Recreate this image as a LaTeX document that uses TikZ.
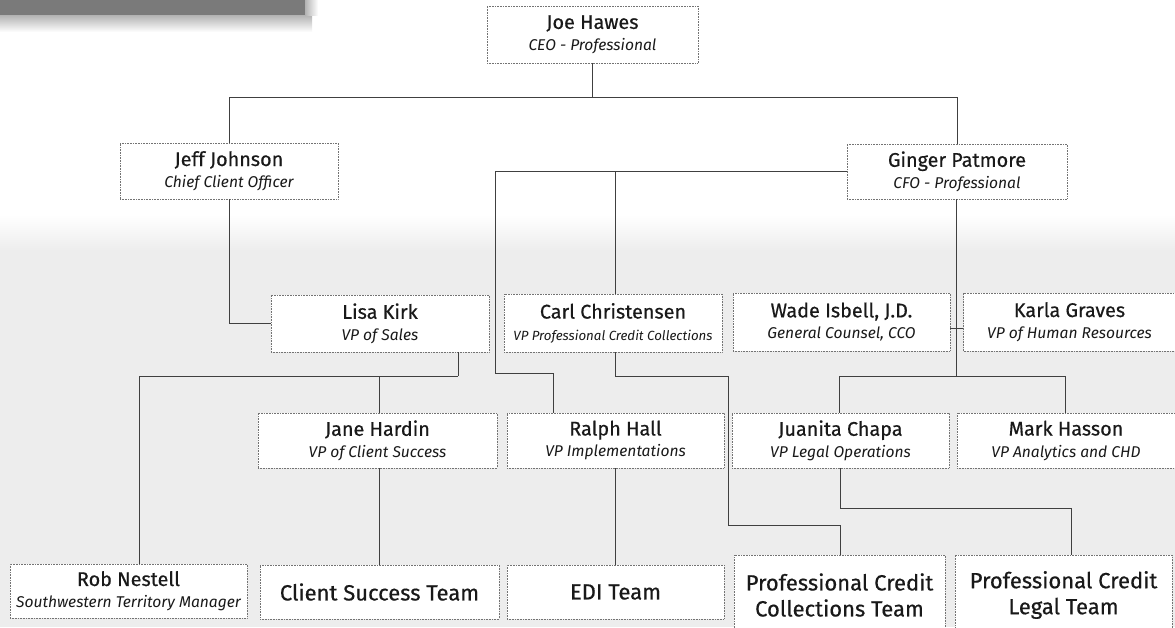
\documentclass[tikz,border=0pt]{standalone}
\usepackage{fontspec}
\setmainfont{Fira Sans}
\newfontfamily\namefam{Fira Sans}[FakeBold=0.5]
\newcommand\nmfont{\namefam\fontsize{19.8}{21}\selectfont}
\newcommand\sbfont{\fontsize{15.6}{21}\selectfont\itshape}
\newcommand\smfont{\fontsize{13.3}{21}\selectfont\itshape}
\newcommand\tmfont{\namefam\fontsize{22}{26}\selectfont}
\tikzset{
  box/.style={draw=black!55, densely dotted, line width=0.6pt, fill=white,
    inner sep=0pt, align=center, text=black!90, font=\fontsize{15}{21.5}\selectfont},
  team/.style={box, font=\tmfont},
  conn/.style={draw=black!75, line width=0.9pt}
}
\begin{document}
\begin{tikzpicture}[x=1pt,y=-1pt]
\useasboundingbox (0,0) rectangle (1175,627);
\clip (0,0) rectangle (1175,627);
% background texture band
\shade[top color=white, bottom color=black!7] (0,215) rectangle (1175,250);
\fill[black!7] (0,250) rectangle (1175,627);
% header bar remnant
\shade[top color=black!30, bottom color=white] (0,15) rectangle (312,32);
\shade[left color=black!30, right color=white] (305,0) rectangle (318,15);
\fill[black!52] (0,0) rectangle (305,15);

% nodes
\node[box, minimum width=211, minimum height=57] (joe) at (592.5,34.5)
  {{\nmfont Joe Hawes}\\{\sbfont CEO - Professional}};
\node[box, minimum width=218, minimum height=56] (jeff) at (229,171)
  {{\nmfont Jeff Johnson}\\{\sbfont Chief Client Officer}};
\node[box, minimum width=220, minimum height=55] (ginger) at (957,171.5)
  {{\nmfont Ginger Patmore}\\{\sbfont CFO - Professional}};
\node[box, minimum width=218, minimum height=57] (lisa) at (380,323.5)
  {{\nmfont Lisa Kirk}\\{\sbfont VP of Sales}};
\node[box, minimum width=218, minimum height=58] (carl) at (613,323)
  {{\nmfont Carl Christensen}\\{\smfont VP Professional Credit Collections}};
\node[box, minimum width=217, minimum height=58] (wade) at (841.5,322)
  {{\nmfont Wade Isbell, J.D.}\\{\sbfont General Counsel, CCO}};
\node[box, minimum width=212, minimum height=58] (karla) at (1069.5,322)
  {{\nmfont Karla Graves}\\{\sbfont VP of Human Resources}};
\node[box, minimum width=239, minimum height=55] (jane) at (377.5,440.5)
  {{\nmfont Jane Hardin}\\{\sbfont VP of Client Success}};
\node[box, minimum width=217, minimum height=55] (ralph) at (615.5,440.5)
  {{\nmfont Ralph Hall}\\{\sbfont VP Implementations}};
\node[box, minimum width=217, minimum height=55] (juanita) at (840.5,440.5)
  {{\nmfont Juanita Chapa}\\{\sbfont VP Legal Operations}};
\node[box, minimum width=218, minimum height=55] (mark) at (1066,440.5)
  {{\nmfont Mark Hasson}\\{\sbfont VP Analytics and CHD}};
\node[box, minimum width=237, minimum height=54] (rob) at (128.5,591)
  {{\nmfont Rob Nestell}\\{\sbfont Southwestern Territory Manager}};
\node[team, minimum width=239, minimum height=54] (cst) at (379.5,592)
  {Client Success Team};
\node[team, minimum width=217, minimum height=54] (edi) at (615.5,592)
  {EDI Team};
\node[team, minimum width=211, minimum height=80] (coll) at (839.5,595)
  {Professional Credit\\Collections Team};
\node[team, minimum width=217, minimum height=80] (legal) at (1063.5,595)
  {Professional Credit\\Legal Team};

% helper coordinates
\coordinate (top) at (592,97);
\coordinate (gl) at (495,171.5);
\coordinate (rk) at (553,373);
\coordinate (jm) at (956,376);
\coordinate (ja) at (839,376);
\coordinate (mj) at (1065,376);
\coordinate (lb) at (458,376);
\coordinate (c1) at (728,376);
\coordinate (c2) at (728,525);
\coordinate (j1) at (1071,508);

% connectors
\draw[conn] (joe.south -| top) -- (top);
\draw[conn] (jeff.north) |- (ginger.north |- top) -- (ginger.north);
\draw[conn] (jeff.south) |- (lisa.west);
\draw[conn] (ginger.west) -- (gl) |- (rk) -- (rk |- ralph.north);
\draw[conn] (carl.north -| 615,0) -- (615,171.5);
\draw[conn] (ginger.south -| jm) -- (jm);
\draw[conn] (juanita.north -| ja) -- (ja) -- (mj) -- (mark.north -| mj);
\draw[conn] ([yshift=-6pt]wade.east) -- ([yshift=-6pt]karla.west);
\draw[conn] (lisa.south -| lb) -- (lb);
\draw[conn] (rob.north -| 139,0) |- (lb);
\draw[conn] (jane.north -| 379,0) -- (379,376);
\draw[conn] (jane.south -| 379,0) -- (cst.north -| 379,0);
\draw[conn] (ralph.south -| 615,0) -- (edi.north -| 615,0);
\draw[conn] (carl.south -| 615,0) |- (c1) -- (c2) -| (coll.north -| 840,0);
\draw[conn] (juanita.south -| 840,0) |- (j1) -- (legal.north -| j1);
\end{tikzpicture}
\end{document}
